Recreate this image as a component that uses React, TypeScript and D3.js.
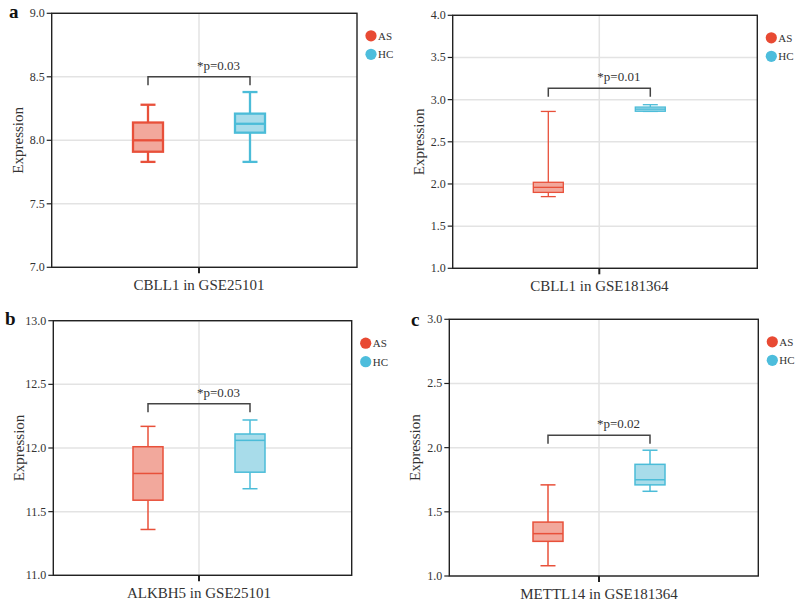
import React from "react";
import * as d3 from "d3";

// ---- data ----
const groups = ["AS", "HC"];
// [min, q1, median, q3, max]
const cbll1Gse25101AS = [7.83, 7.91, 8.0, 8.14, 8.28];
const cbll1Gse25101HC = [7.83, 8.06, 8.13, 8.21, 8.38];
const cbll1Gse181364AS = [1.85, 1.9, 1.96, 2.02, 2.86];
const cbll1Gse181364HC = [2.86, 2.862, 2.887, 2.912, 2.94];
const alkbh5Gse25101AS = [11.36, 11.59, 11.8, 12.01, 12.17];
const alkbh5Gse25101HC = [11.68, 11.81, 12.06, 12.11, 12.22];
const mettl14Gse181364AS = [1.08, 1.27, 1.33, 1.42, 1.71];
const mettl14Gse181364HC = [1.66, 1.71, 1.75, 1.87, 1.98];
const xLabels = ["CBLL1 in GSE25101", "CBLL1 in GSE181364", "ALKBH5 in GSE25101", "METTL14 in GSE181364"];
const pLabels = ["*p=0.03", "*p=0.01", "*p=0.03", "*p=0.02"];
const bracketLevels = [8.5, 3.134, 12.348, 2.097];
const yDomains = [[7, 9], [1, 4], [11, 13], [1, 3]];
const yTicks = [
  [7.0, 7.5, 8.0, 8.5, 9.0],
  [1.0, 1.5, 2.0, 2.5, 3.0, 3.5, 4.0],
  [11.0, 11.5, 12.0, 12.5, 13.0],
  [1.0, 1.5, 2.0, 2.5, 3.0],
];
const panelLetters = ["a", "", "b", "c"];

// ---- layout (not data) ----
const panels = [
  { left: 51.7, right: 357, top: 13.3, bottom: 267.3, cx: 199, sw: 2.3, letter: { x: 9, y: 18 } },
  { left: 452.7, right: 757.3, top: 15.3, bottom: 268.3, cx: 599.3, sw: 1.3, letter: { x: 0, y: 0 } },
  { left: 53.3, right: 351.7, top: 320.7, bottom: 575.3, cx: 199, sw: 1.5, letter: { x: 5, y: 325 } },
  { left: 449.3, right: 758.3, top: 319.3, bottom: 576, cx: 599, sw: 1.5, letter: { x: 411, y: 326 } },
];
const boxData = [
  [cbll1Gse25101AS, cbll1Gse25101HC],
  [cbll1Gse181364AS, cbll1Gse181364HC],
  [alkbh5Gse25101AS, alkbh5Gse25101HC],
  [mettl14Gse181364AS, mettl14Gse181364HC],
];

const stroke = { AS: "#e8503a", HC: "#4bbcd8" };
const fill = { AS: "#f2a89c", HC: "#a8dcea" };
const legendColor = { AS: "#e84a33", HC: "#4dbddc" };
const FONT = "'Liberation Serif', 'Times New Roman', serif";

function Panel({ i }: { i: number }) {
  const p = panels[i];
  const y = d3.scaleLinear().domain(yDomains[i]).range([p.bottom, p.top]);
  const x = d3.scalePoint<string>().domain(groups).range([p.cx - 51, p.cx + 51]);
  const boxW = 30;
  const capW = 15;
  const by = y(bracketLevels[i]);
  const bx1 = x("AS")!;
  const bx2 = x("HC")!;
  const bmid = (bx1 + bx2) / 2;
  return (
    <g>
      {/* gridlines */}
      {yTicks[i].map((t) => (
        <line key={"g" + t} x1={p.left} x2={p.right} y1={y(t)} y2={y(t)} stroke="#e3e3e3" strokeWidth={1.5} />
      ))}
      <line x1={p.cx} x2={p.cx} y1={p.top} y2={p.bottom} stroke="#e3e3e3" strokeWidth={1.5} />
      {/* frame */}
      <rect x={p.left} y={p.top} width={p.right - p.left} height={p.bottom - p.top} fill="none" stroke="#222" strokeWidth={1.4} />
      {/* y ticks */}
      {yTicks[i].map((t) => (
        <g key={"t" + t}>
          <line x1={p.left - 5} x2={p.left} y1={y(t)} y2={y(t)} stroke="#222" strokeWidth={1.2} />
          <text x={p.left - 7} y={y(t) + 4} textAnchor="end" fontSize={12} fontFamily={FONT} fill="#333">
            {t.toFixed(1)}
          </text>
        </g>
      ))}
      {/* x tick */}
      <line x1={p.cx} x2={p.cx} y1={p.bottom} y2={p.bottom + 6} stroke="#222" strokeWidth={2} />
      <text x={p.cx} y={p.bottom + 23} textAnchor="middle" fontSize={15} fontFamily={FONT} fill="#333">
        {xLabels[i]}
      </text>
      {/* y title */}
      <text
        transform={`translate(${p.left - 29},${(p.top + p.bottom) / 2}) rotate(-90)`}
        textAnchor="middle"
        fontSize={15}
        fontFamily={FONT}
        fill="#333"
      >
        Expression
      </text>
      {/* boxes */}
      {groups.map((g, k) => {
        const [mn, q1, md, q3, mx] = boxData[i][k];
        const cx = x(g)!;
        const c = (stroke as any)[g];
        const f = (fill as any)[g];
        return (
          <g key={g} stroke={c} strokeWidth={p.sw}>
            <line x1={cx} x2={cx} y1={y(mx)} y2={y(q3)} />
            <line x1={cx} x2={cx} y1={y(q1)} y2={y(mn)} />
            <line x1={cx - capW / 2} x2={cx + capW / 2} y1={y(mx)} y2={y(mx)} />
            <line x1={cx - capW / 2} x2={cx + capW / 2} y1={y(mn)} y2={y(mn)} />
            <rect x={cx - boxW / 2} y={y(q3)} width={boxW} height={y(q1) - y(q3)} fill={f} />
            <line x1={cx - boxW / 2} x2={cx + boxW / 2} y1={y(md)} y2={y(md)} />
          </g>
        );
      })}
      {/* bracket */}
      <path
        d={`M${bx1},${by + 8.5}V${by}H${bx2}V${by + 8.5}`}
        fill="none"
        stroke="#444"
        strokeWidth={1.5}
      />
      <text x={bmid - 2} y={by - 7} fontSize={13} fontFamily={FONT} fill="#333">
        {pLabels[i]}
      </text>
      {/* legend */}
      {groups.map((g, k) => (
        <g key={"l" + g}>
          <circle cx={p.right + 14} cy={p.top + 22.5 + k * 18.5} r={5.6} fill={(legendColor as any)[g]} />
          <text x={p.right + 21} y={p.top + 26.5 + k * 18.5} fontSize={11} fontFamily={FONT} fill="#333">
            {g}
          </text>
        </g>
      ))}
      {panelLetters[i] && (
        <text x={p.letter.x} y={p.letter.y} fontSize={19} fontWeight="bold" fontFamily={FONT} fill="#111">
          {panelLetters[i]}
        </text>
      )}
    </g>
  );
}

export default function App() {
  return (
    <svg
      width={799}
      height={606}
      style={{ position: "absolute", left: 0, top: 0, background: "#fff" }}
    >
      <rect width={799} height={606} fill="#fff" />
      {panels.map((_, i) => (
        <Panel key={i} i={i} />
      ))}
    </svg>
  );
}
